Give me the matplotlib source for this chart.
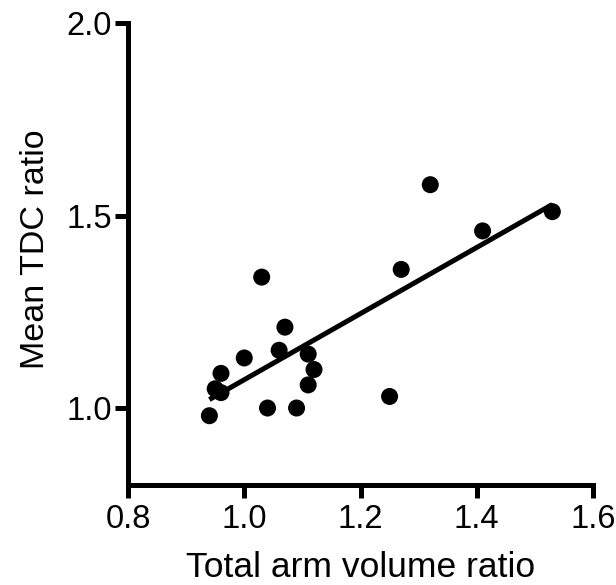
import numpy as np
import matplotlib
matplotlib.use('Agg')
import matplotlib.pyplot as plt

# data
arm_volume_ratio = [0.94, 0.95, 0.96, 0.96, 1.00, 1.03, 1.04, 1.06, 1.07,
                    1.09, 1.11, 1.11, 1.12, 1.25, 1.27, 1.32, 1.41, 1.53]
mean_tdc_ratio = [0.98, 1.05, 1.04, 1.09, 1.13, 1.34, 1.00, 1.15, 1.21,
                  1.00, 1.14, 1.06, 1.10, 1.03, 1.36, 1.58, 1.46, 1.51]
x_ticks = [0.8, 1.0, 1.2, 1.4, 1.6]
y_ticks = [1.0, 1.5, 2.0]

plt.rcParams['font.family'] = ['Liberation Sans', 'DejaVu Sans']

fig = plt.figure(figsize=(6.16, 5.85), dpi=100)
ax = fig.add_axes([0.2078, 0.1709, 0.7549, 0.7898])

x = np.array(arm_volume_ratio)
y = np.array(mean_tdc_ratio)

# linear regression line over the data range
k, b = np.polyfit(x, y, 1)
xl = np.array([x.min(), x.max()])
ax.plot(xl, k * xl + b, color='black', lw=3.6, solid_capstyle='butt', zorder=2)
ax.scatter(x, y, s=150, color='black', edgecolors='none', zorder=3)

ax.set_xlim(0.8, 1.6)
ax.set_ylim(0.8, 2.0)
ax.set_xticks(x_ticks)
ax.set_yticks(y_ticks)
ax.set_xticklabels(['%.1f' % v for v in x_ticks])
ax.set_yticklabels(['%.1f' % v for v in y_ticks])

for s in ['top', 'right']:
    ax.spines[s].set_visible(False)
for s in ['left', 'bottom']:
    ax.spines[s].set_linewidth(3.6)
    ax.spines[s].set_capstyle('projecting')

ax.tick_params(axis='both', width=3.6, length=9.5, labelsize=23.5, color='black')
ax.tick_params(axis='x', pad=4)
ax.tick_params(axis='y', pad=2)

ax.set_xlabel('Total arm volume ratio', fontsize=25.5)
ax.set_ylabel('Mean TDC ratio', fontsize=24.5)
ax.xaxis.set_label_coords(0.5, -0.143)
ax.yaxis.set_label_coords(-0.166, 0.51)

fig.savefig('out.png', dpi=100)
